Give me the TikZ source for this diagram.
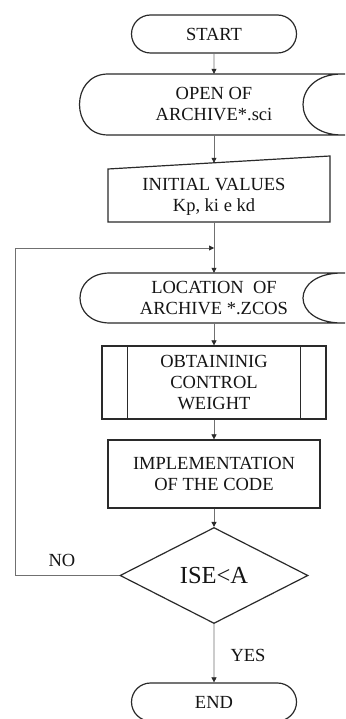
\documentclass[tikz,border=0pt]{standalone}
\usepackage{fontspec}
\setmainfont{Liberation Serif}
\usetikzlibrary{shapes.misc,shapes.geometric,arrows.meta}
\definecolor{ink}{HTML}{2A2A2A}
\definecolor{txt}{HTML}{151515}
\definecolor{wire}{HTML}{707070}
\begin{document}
\begin{tikzpicture}[x=1pt,y=-1pt,
  every node/.style={text=txt,font=\fontsize{18.5}{21}\selectfont,align=center,inner sep=0pt},
  outline/.style={draw=ink,line width=1.2pt},
  term/.style={outline,rounded rectangle,minimum width=165pt,minimum height=38pt},
  boxshape/.style={outline,rectangle},
  ghost/.style={draw=none,rectangle},
  arr/.style={draw=wire,line width=0.6pt,-{Triangle[length=5pt,width=5pt,color=ink]}},
  wireline/.style={draw=wire,line width=0.6pt}]
\useasboundingbox (0,0) rectangle (345,719);
\fill[white] (0,0) rectangle (345,719);

% START
\node[term] (start) at (214,34) {START};

% OPEN OF ARCHIVE (stored data)
\draw[outline] (108,74) -- (345,74)
  (342,74) .. controls (290,74) and (290,135) .. (342,135)
  (345,135) -- (108,135) .. controls (70,135) and (70,74) .. (108,74);
\node[ghost,minimum width=200pt,minimum height=61pt] (open) at (214,104.5) {OPEN OF\\ARCHIVE*.sci};

% INITIAL VALUES (manual input)
\draw[outline] (108,169) -- (330,156) -- (330,222) -- (108,222) -- cycle;
\node[ghost,minimum width=200pt,minimum height=59pt] (input) at (214,192.5) {};
\node (inputT) at (214,197) {INITIAL VALUES\\Kp, ki e kd};

% LOCATION OF ARCHIVE (stored data)
\draw[outline] (110,273) -- (345,273)
  (342,273) .. controls (290,273) and (290,323) .. (342,323)
  (345,323) -- (110,323) .. controls (70,323) and (70,273) .. (110,273);
\node[ghost,minimum width=200pt,minimum height=50pt] (loc) at (214,298) {LOCATION\ \ OF\\ARCHIVE *.ZCOS};

% OBTAINING CONTROL WEIGHT (predefined process)
\node[boxshape,minimum width=224pt,minimum height=73pt] (obt) at (214,382.5) {OBTAININIG\\CONTROL\\WEIGHT};
\draw[outline] ([xshift=26pt]obt.north west) -- ([xshift=26pt]obt.south west)
  ([xshift=-26pt]obt.north east) -- ([xshift=-26pt]obt.south east);

% IMPLEMENTATION
\node[boxshape,minimum width=212pt,minimum height=68pt] (impl) at (214,474) {IMPLEMENTATION\\OF THE CODE};

% decision
\node[outline,diamond,minimum width=188pt,minimum height=96pt,font=\fontsize{24.5}{28}\selectfont] (dec) at (214,575.5) {ISE<A};

% END
\node[term] (end) at (214,702) {END};

% connectors
\coordinate (join) at (214,248);
\draw[arr] (start) -- (open);
\draw[arr] (open) -- (input);
\draw[arr] (input) -- (loc);
\draw[arr] (loc) -- (obt);
\draw[arr] (obt) -- (impl);
\draw[arr] (impl) -- (dec);
\draw[arr] (dec) -- (end);
\draw[arr] (dec.west) -- (15,575.5) |- (join);

% labels
\node (no) at (62,560) {NO};
\node (yes) at (248,655) {YES};
\end{tikzpicture}
\end{document}
